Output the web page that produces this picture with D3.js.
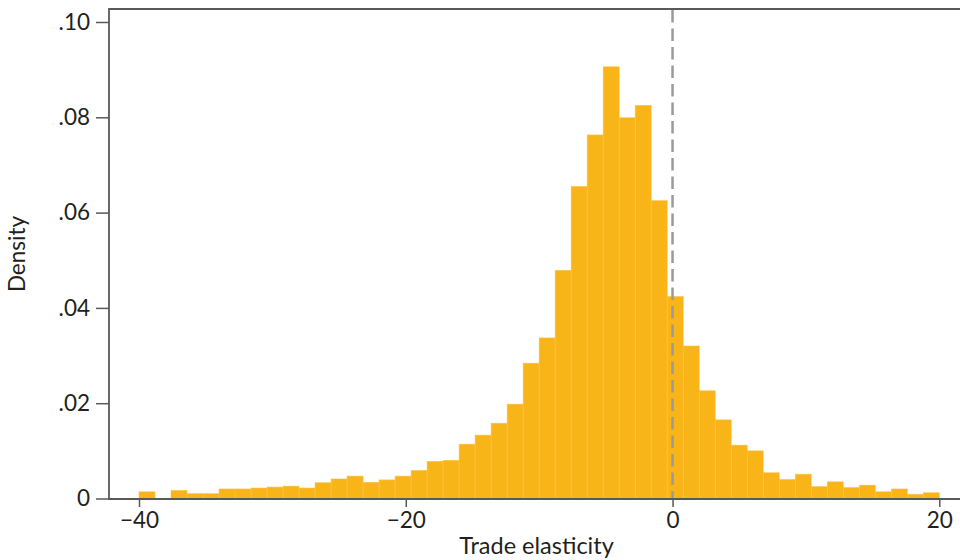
<!DOCTYPE html>
<html>
<head>
<meta charset="utf-8">
<script src="https://cdn.jsdelivr.net/npm/d3@7"></script>
<style>
  html, body { margin: 0; padding: 0; background: #fff; }
  svg { display: block; }
  text { font-family: Lato, "Open Sans", sans-serif; fill: #231f20; }
</style>
</head>
<body>
<svg id="chart" width="960" height="560"></svg>
<script>
// ---- data ----
const binStart = -40;
const binWidth = 1.2;
const densities = [
  0.0014, 0.0000, 0.0017, 0.0010, 0.0010, 0.0020, 0.0020, 0.0022, 0.0024, 0.0026,
  0.0022, 0.0033, 0.0041, 0.0047, 0.0034, 0.0039, 0.0047, 0.0059, 0.0078, 0.0080,
  0.0114, 0.0133, 0.0158, 0.0198, 0.0284, 0.0337, 0.0479, 0.0655, 0.0763, 0.0906,
  0.0799, 0.0825, 0.0625, 0.0424, 0.0320, 0.0226, 0.0165, 0.0112, 0.0100, 0.0054,
  0.0040, 0.0051, 0.0025, 0.0035, 0.0023, 0.0028, 0.0014, 0.0020, 0.0009, 0.0012
];
const xTicks = [-40, -20, 0, 20];
const xTickLabels = ["\u221240", "\u221220", "0", "20"];
const yTicks = [0, 0.02, 0.04, 0.06, 0.08, 0.10];
const yTickLabels = ["0", ".02", ".04", ".06", ".08", ".10"];
const refLine = 0;
const xTitle = "Trade elasticity";
const yTitle = "Density";

// ---- layout ----
const svg = d3.select("#chart");
const frame = { left: 109, right: 960, top: 9, bottom: 499 };
const x = d3.scaleLinear().domain([-40, 20]).range([139, 939.3]);
const y = d3.scaleLinear().domain([0, 0.1]).range([498.5, 22]);

const bins = densities.map((d, i) => ({
  x0: binStart + i * binWidth,
  x1: binStart + (i + 1) * binWidth,
  v: d
}));

// bars
svg.append("g").selectAll("rect")
  .data(bins.filter(b => b.v > 0))
  .join("rect")
  .attr("x", b => x(b.x0))
  .attr("width", b => x(b.x1) - x(b.x0))
  .attr("y", b => y(b.v))
  .attr("height", b => y(0) - y(b.v))
  .attr("fill", "#f9b418")
  .attr("stroke", "#fbc34a")
  .attr("stroke-width", 0.6);

// reference dashed line
svg.append("line")
  .attr("x1", x(refLine)).attr("x2", x(refLine))
  .attr("y1", frame.top + 1).attr("y2", frame.bottom)
  .attr("stroke", "#9a9a9a")
  .attr("stroke-width", 2.5)
  .attr("stroke-dasharray", "12.5,6");

// frame lines (left, top, bottom)
const axisColor = "#595959";
svg.append("path")
  .attr("d", `M${frame.right},${frame.top}H${frame.left}V${frame.bottom}H${frame.right}`)
  .attr("fill", "none")
  .attr("stroke", axisColor)
  .attr("stroke-width", 1.8);

// x axis
const xAxis = d3.axisBottom(x)
  .tickValues(xTicks)
  .tickSize(8)
  .tickPadding(5)
  .tickFormat((d, i) => xTickLabels[i]);
const gx = svg.append("g").attr("transform", `translate(0,${frame.bottom})`).call(xAxis);
gx.select(".domain").remove();
gx.selectAll(".tick line").attr("stroke", axisColor).attr("stroke-width", 1.5);
gx.selectAll(".tick text").attr("font-size", 22.5).attr("fill", "#231f20")
  .style("font-family", "Lato, 'Open Sans', sans-serif");

// y axis
const yAxis = d3.axisLeft(y)
  .tickValues(yTicks)
  .tickSize(13)
  .tickPadding(6)
  .tickFormat((d, i) => yTickLabels[i]);
const gy = svg.append("g").attr("transform", `translate(${frame.left},0)`).call(yAxis);
gy.select(".domain").remove();
gy.selectAll(".tick line").attr("stroke", axisColor).attr("stroke-width", 1.5);
gy.selectAll(".tick text").attr("font-size", 22.5).attr("fill", "#231f20")
  .style("font-family", "Lato, 'Open Sans', sans-serif");

// titles
svg.append("text")
  .attr("x", (frame.left + frame.right) / 2 + 2)
  .attr("y", 554)
  .attr("text-anchor", "middle")
  .attr("font-size", 23.5)
  .text(xTitle);

svg.append("text")
  .attr("transform", `translate(25,${(frame.top + frame.bottom) / 2}) rotate(-90)`)
  .attr("text-anchor", "middle")
  .attr("font-size", 22.5)
  .text(yTitle);
</script>
</body>
</html>
